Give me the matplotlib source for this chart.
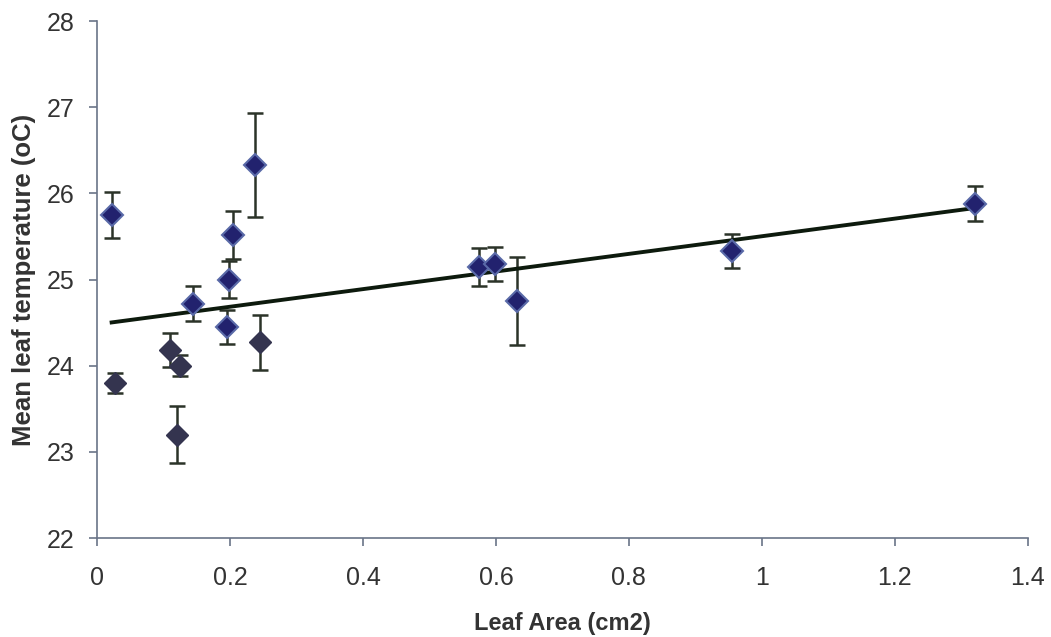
import numpy as np
import matplotlib
matplotlib.use("Agg")
import matplotlib.pyplot as plt

plt.rcParams["font.family"] = ["Liberation Sans", "DejaVu Sans"]

# leaf area (cm2), mean leaf temperature (oC), error
leaf_area = [0.022, 0.027, 0.110, 0.120, 0.125, 0.145, 0.195, 0.198,
             0.205, 0.238, 0.245, 0.575, 0.598, 0.632, 0.955, 1.320]
leaf_temp = [25.75, 23.80, 24.18, 23.20, 24.00, 24.72, 24.45, 25.00,
             25.52, 26.33, 24.27, 25.15, 25.18, 24.75, 25.33, 25.88]
temp_err = [0.27, 0.12, 0.20, 0.33, 0.12, 0.20, 0.20, 0.22,
            0.28, 0.60, 0.32, 0.22, 0.20, 0.51, 0.20, 0.20]
dark_group = [False, True, True, True, True, False, False, False,
              False, False, True, False, False, False, False, False]

x = np.array(leaf_area)
y = np.array(leaf_temp)
e = np.array(temp_err)
dk = np.array(dark_group)

fig = plt.figure(figsize=(10.51, 6.37), dpi=100)
ax = fig.add_axes([0.0923, 0.1554, 0.8857, 0.8116])

ax.errorbar(x, y, yerr=e, fmt="none", ecolor="#2b3328", elinewidth=1.8,
            capsize=6, capthick=1.8, zorder=2)
ax.plot(x[~dk], y[~dk], "D", ms=11, mfc="#22226e", mec="#5a6aa8", mew=1.5, zorder=3)
ax.plot(x[dk], y[dk], "D", ms=11, mfc="#34344f", mec="#34344f", mew=1, zorder=3)

slope, icpt = np.polyfit(x, y, 1)
xl = np.array([x.min(), x.max()])
ax.plot(xl, slope * xl + icpt, color="#0d1a0d", lw=2.8, zorder=2.5)

ax.set_xlim(0, 1.4)
ax.set_ylim(22, 28)
ax.set_xticks(np.arange(0, 1.41, 0.2))
ax.set_xticklabels(["0", "0.2", "0.4", "0.6", "0.8", "1", "1.2", "1.4"])
ax.set_yticks(range(22, 29))

for s in ["top", "right"]:
    ax.spines[s].set_visible(False)
for s in ["left", "bottom"]:
    ax.spines[s].set_color("#6a7488")
    ax.spines[s].set_linewidth(1.2)
ax.tick_params(colors="#6a7488", width=1.2, length=6, labelsize=18,
               labelcolor="#333333")
ax.tick_params(axis="x", pad=14)
ax.tick_params(axis="y", pad=10)

ax.set_xlabel("Leaf Area (cm2)", fontsize=17, fontweight="bold", color="#333333", labelpad=16)
ax.set_ylabel("Mean leaf temperature (oC)", fontsize=18.5, fontweight="bold", color="#333333", labelpad=8)

fig.savefig("out.png", dpi=100)
